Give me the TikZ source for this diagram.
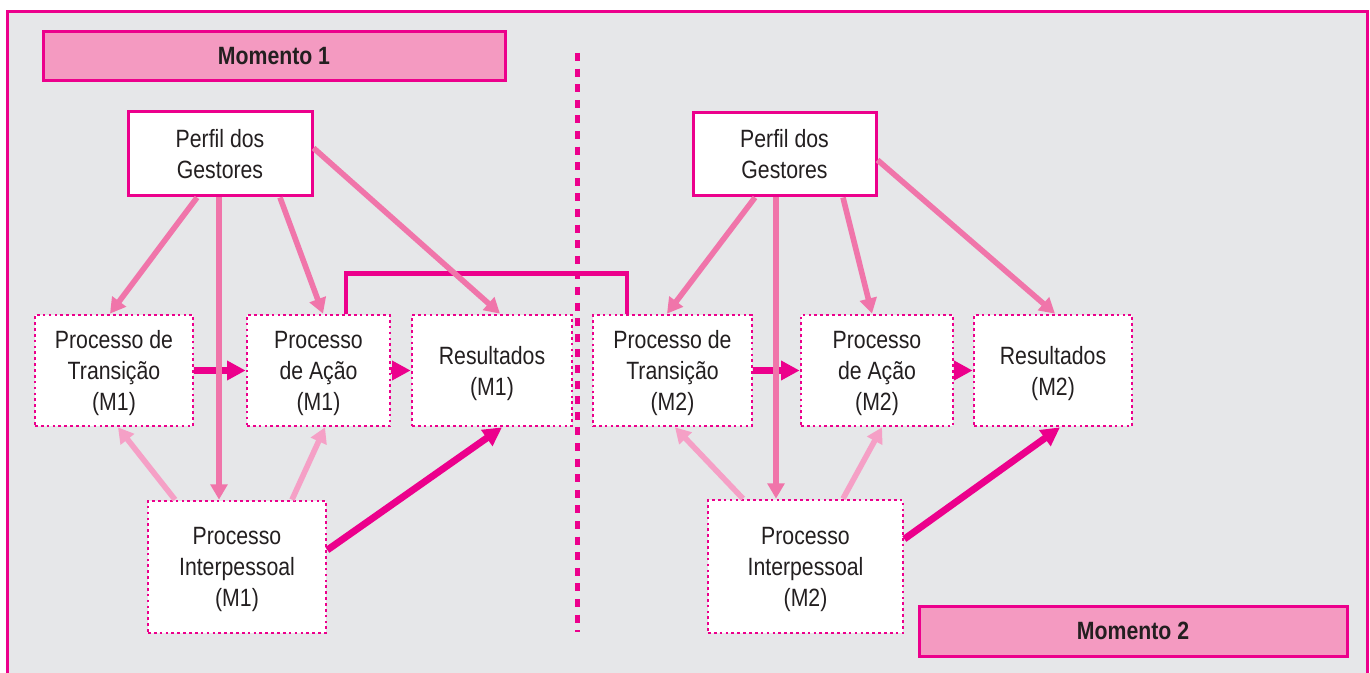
\documentclass[tikz,border=0pt]{standalone}
\usepackage{fontspec}
\setmainfont{Liberation Sans}[FakeStretch=0.85]
\usetikzlibrary{arrows.meta,calc}

\definecolor{mgt}{HTML}{EC008C}
\definecolor{pinkmid}{HTML}{F075AA}
\definecolor{pinklight}{HTML}{F5A0C6}
\definecolor{pinkfill}{HTML}{F49AC1}
\definecolor{bggray}{HTML}{E6E7E9}
\definecolor{inktext}{HTML}{231F20}

\tikzset{
  txt/.style={font=\fontsize{18.75}{23.25}\selectfont, text=inktext, align=center, inner sep=0pt},
  size/.style 2 args={minimum width=#1*0.75pt, minimum height=#2*0.75pt},
  dotbox/.style={txt, text depth=0pt, fill=white, draw=mgt, line width=2pt, dash pattern=on 2pt off 2.4pt},
  solidbox/.style={txt, fill=white, draw=mgt, line width=2.25pt},
  labelbox/.style={txt, font=\fontsize{18.75}{23.25}\selectfont\bfseries, fill=pinkfill, draw=mgt, line width=2.25pt},
  midarrow/.style={draw=pinkmid, line width=4.2pt, -{Triangle[length=11.5pt,width=12.5pt]}},
  lightarrow/.style={draw=pinklight, line width=4.2pt, -{Triangle[length=11.5pt,width=12.5pt]}},
  strongarrow/.style={draw=mgt, line width=5.2pt, -{Triangle[length=14pt,width=14pt]}},
  link/.style={draw=mgt, line width=3.4pt}
}

\begin{document}
\begin{tikzpicture}[x=0.75pt, y=-0.75pt]
  \useasboundingbox (0,0) rectangle (1370,673);
  \clip (0,0) rectangle (1370,673);

  % frame
  \fill[white] (0,0) rectangle (1370,673);
  \filldraw[fill=bggray, draw=mgt, line width=2.25pt] (7.5,11.5) rectangle (1367,700);

  % divider between the two moments
  \draw[mgt, line width=3.75pt, dash pattern=on 6pt off 5.7pt] (577,53) -- (577,632);

  % stage labels
  \node[labelbox, size={462}{49}] (m1lab) at (274,56.5) {Momento 1};
  \node[labelbox, size={428}{50}] (m2lab) at (1133,631) {Momento 2};

  % moment 1
  \node[solidbox, size={184}{84}] (perfil1) at (220,154) {Perfil dos\\Gestores};
  \node[dotbox, size={158}{111}] (trans1) at (114,370.5) {Processo de\\Transição\\(M1)};
  \node[dotbox, size={143}{111}] (acao1) at (318.5,370.5) {Processo\\de Ação\\(M1)};
  \node[dotbox, size={160}{111}] (res1) at (492,370.5) {Resultados\\(M1)};
  \node[dotbox, size={178}{132}] (inter1) at (237,567) {Processo\\Interpessoal\\(M1)};

  % moment 2
  \node[solidbox, size={183}{83}] (perfil2) at (784.5,154.5) {Perfil dos\\Gestores};
  \node[dotbox, size={159}{111}] (trans2) at (672.5,370.5) {Processo de\\Transição\\(M2)};
  \node[dotbox, size={152}{111}] (acao2) at (877,370.5) {Processo\\de Ação\\(M2)};
  \node[dotbox, size={158}{111}] (res2) at (1053,370.5) {Resultados\\(M2)};
  \node[dotbox, size={195}{133}] (inter2) at (805.5,566.5) {Processo\\Interpessoal\\(M2)};

  % link from moment 1 to moment 2
  \draw[link] ($(acao1.north)+(27.5,0)$) |- ($(trans2.north)+(-45.5,-40)$) -- ($(trans2.north)+(-45.5,0)$);

  % moment 1 connectors
  \draw[strongarrow] (trans1.east) -- (acao1.west);
  \draw[strongarrow] (acao1.east) -- (res1.west);
  \draw[strongarrow] ($(inter1.east)+(0,-17)$) -- ($(res1.south)+(10,0)$);
  \draw[lightarrow] ($(inter1.north)+(-62,0)$) -- ($(trans1.south)+(4,0)$);
  \draw[lightarrow] ($(inter1.north)+(55,0)$) -- ($(acao1.south)+(6.5,0)$);
  \draw[midarrow] ($(perfil1.south)+(-23,0)$) -- ($(trans1.north)+(-4,0)$);
  \draw[midarrow] ($(perfil1.south)+(-1,0)$) -- ($(inter1.north)+(-18,0)$);
  \draw[midarrow] ($(perfil1.south)+(60,0)$) -- ($(acao1.north)+(4.5,0)$);
  \draw[midarrow] ($(perfil1.east)+(0,-6)$) -- ($(res1.north)+(8,0)$);

  % moment 2 connectors
  \draw[strongarrow] (trans2.east) -- (acao2.west);
  \draw[strongarrow] (acao2.east) -- (res2.west);
  \draw[strongarrow] ($(inter2.east)+(0,-27.5)$) -- ($(res2.south)+(7,0)$);
  \draw[lightarrow] ($(inter2.north)+(-62.5,0)$) -- ($(trans2.south)+(2.5,0)$);
  \draw[lightarrow] ($(inter2.north)+(37.5,0)$) -- ($(acao2.south)+(5,0)$);
  \draw[midarrow] ($(perfil2.south)+(-29.5,0)$) -- ($(trans2.north)+(-5.5,0)$);
  \draw[midarrow] ($(perfil2.south)+(-8.5,0)$) -- ($(inter2.north)+(-29.5,0)$);
  \draw[midarrow] ($(perfil2.south)+(58.5,0)$) -- ($(acao2.north)+(-5,0)$);
  \draw[midarrow] ($(perfil2.east)+(0,5.5)$) -- ($(res2.north)+(2,0)$);
\end{tikzpicture}
\end{document}
